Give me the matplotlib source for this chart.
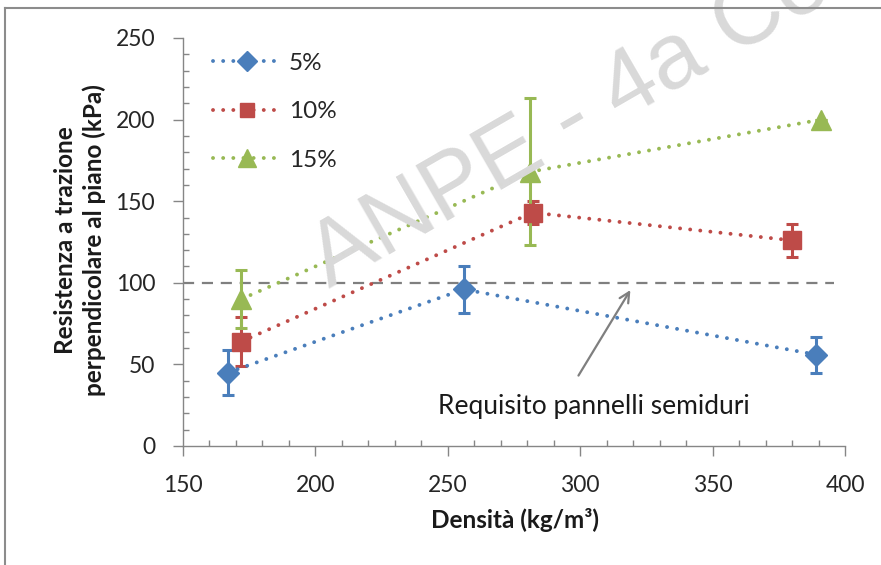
import matplotlib
matplotlib.use("Agg")
import matplotlib.pyplot as plt
from matplotlib.lines import Line2D
from matplotlib.ticker import MultipleLocator

plt.rcParams['font.family'] = ['Lato', 'DejaVu Sans']

# Data
x5 = [167, 256, 389]
y5 = [45, 96, 56]
e5 = [14, 14.5, 11]

x10 = [172, 282, 380]
y10 = [64, 143, 126]
e10 = [15, 7, 10]

x15 = [172, 281, 391]
y15 = [90, 168, 200]
e15 = [18, 45, 0]

labels = ["5%", "10%", "15%"]
colors = ["#4A7EBB", "#BE4B48", "#98B954"]
markers = ["D", "s", "^"]
msizes = [11.5, 12.5, 15]

ref_x = [150, 396]
ref_y = [100, 100]

xticks = [150, 200, 250, 300, 350, 400]
yticks = [0, 50, 100, 150, 200, 250]

fig = plt.figure(figsize=(8.81, 5.65), dpi=100)
ax = fig.add_axes([183/881, 1-446/565, (845-183)/881, (446-38)/565])

# watermark
fig.text(330/881, 1-289/565, "ANPE - 4a Co", fontsize=67, color="#d9d9d9",
         rotation=30, rotation_mode='anchor', ha='left', va='baseline',
         family=['Liberation Sans', 'DejaVu Sans'], zorder=0)

ax.patch.set_alpha(0)

ax.plot(ref_x, ref_y, color="#7F7F7F", lw=1.6, linestyle=(0, (5, 3.5)), zorder=2)

series = [(x5, y5, e5), (x10, y10, e10), (x15, y15, e15)]
handles = []
for (xs, ys, es), lab, c, m, ms in zip(series, labels, colors, markers, msizes):
    ax.errorbar(xs, ys, yerr=es, fmt='none', ecolor=c, elinewidth=2.2,
                capsize=4.5, capthick=2.2, zorder=3)
    ln, = ax.plot(xs, ys, color=c, lw=2.8, linestyle=(0, (0.01, 2.6)),
                  dash_capstyle='round', marker=m, markersize=ms,
                  markerfacecolor=c, markeredgecolor=c, zorder=4, label=lab)
    handles.append(ln)

leg = ax.legend(handles=handles, loc='upper left', bbox_to_anchor=(0.03, 0.988),
                borderaxespad=0, frameon=False, fontsize=17.5, handlelength=2.85,
                labelspacing=1.13, handletextpad=0.3, labelcolor="#262626",
                markerscale=0.85)

ax.annotate("", xy=(319.5, 97), xytext=(298.8, 41.7),
            arrowprops=dict(arrowstyle='->', color='#7F7F7F', lw=1.6,
                            mutation_scale=18))
ax.text(305, 24, "Requisito pannelli semiduri", fontsize=19, ha='center',
        va='center', color="#1a1a1a")

ax.set_xlim(150, 400)
ax.set_ylim(0, 250)
ax.set_xticks(xticks)
ax.set_yticks(yticks)
ax.xaxis.set_minor_locator(MultipleLocator(10))
ax.yaxis.set_minor_locator(MultipleLocator(10))
ax.tick_params(which='major', direction='out', length=7, width=1, color='#868686',
               labelsize=16.5, labelcolor='#262626')
ax.tick_params(axis='y', which='major', pad=13)
ax.tick_params(axis='x', which='major', pad=14)
ax.tick_params(which='minor', direction='in', length=4, width=1, color='#868686')
for s in ['top', 'right']:
    ax.spines[s].set_visible(False)
for s in ['left', 'bottom']:
    ax.spines[s].set_color('#868686')
    ax.spines[s].set_linewidth(1)

ax.set_xlabel("Densità (kg/m³)", fontsize=17.5, fontweight='bold',
              color="#1a1a1a", va='center')
ax.xaxis.set_label_coords(0.5008, (446-520)/408)
ax.set_ylabel("Resistenza a trazione\nperpendicolare al piano (kPa)", fontsize=17.5,
              fontweight='bold', color="#1a1a1a", linespacing=1.25, va='center')
ax.yaxis.set_label_coords((80-183)/662, (446-240)/408)

# figure border
fig.add_artist(Line2D([5/881, 5/881], [-0.1, 1-8/565], color='#8c8c8c', lw=1.5,
                      transform=fig.transFigure))
fig.add_artist(Line2D([5/881, 1.1], [1-8/565, 1-8/565], color='#8c8c8c', lw=1.5,
                      transform=fig.transFigure))

fig.savefig("out.png", dpi=100)
